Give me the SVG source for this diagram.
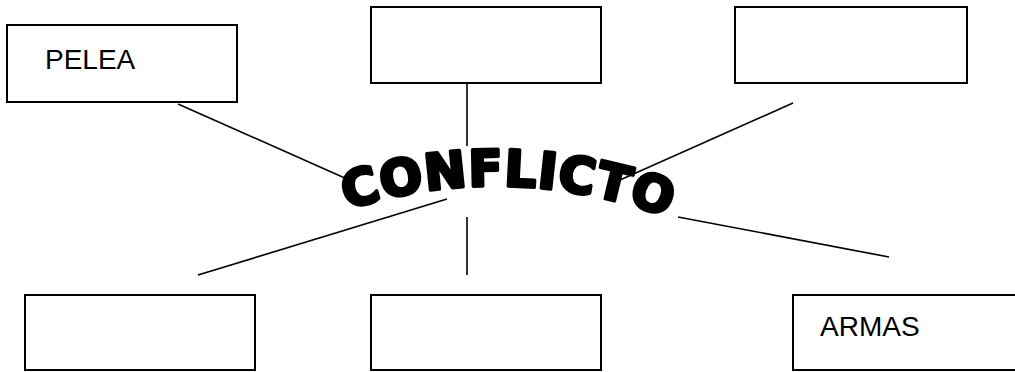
<svg xmlns="http://www.w3.org/2000/svg" width="1015" height="372" viewBox="0 0 1015 372">
  <style>
    .box { fill: #ffffff; stroke: #000000; stroke-width: 2; }
    .lbl { font-family: "Liberation Sans", Arial, sans-serif; font-size: 28px; fill: #000000; }
    .conn line { stroke: #000000; stroke-width: 1.6; }
    .word { font-family: "DejaVu Sans", "Liberation Sans", sans-serif; font-weight: bold; font-size: 50px; fill: #000000; stroke: #000000; stroke-width: 3.5; stroke-linejoin: round; letter-spacing: 1px; }
  </style>
  <defs>
    <path id="arc" d="M 340 212 Q 505 156 676 220" fill="none"/>
  </defs>
  <rect width="1015" height="372" fill="#ffffff"/>
  <g id="connectors" class="conn">
    <line x1="178" y1="104" x2="347" y2="179"/>
    <line x1="467" y1="83" x2="467" y2="146"/>
    <line x1="793" y1="103" x2="620" y2="180"/>
    <line x1="198" y1="275" x2="447" y2="199"/>
    <line x1="467" y1="217" x2="467" y2="275"/>
    <line x1="678" y1="217" x2="889" y2="257"/>
  </g>
  <g id="node-pelea">
    <rect class="box" x="7" y="25" width="230" height="77"/>
    <text class="lbl" x="45" y="69">PELEA</text>
  </g>
  <g id="node-top-center">
    <rect class="box" x="371" y="7" width="230" height="76"/>
  </g>
  <g id="node-top-right">
    <rect class="box" x="735" y="7" width="232" height="76"/>
  </g>
  <g id="node-bottom-left">
    <rect class="box" x="25" y="295" width="230" height="75"/>
  </g>
  <g id="node-bottom-center">
    <rect class="box" x="371" y="295" width="230" height="75"/>
  </g>
  <g id="node-armas">
    <rect class="box" x="793" y="295" width="240" height="75"/>
    <text class="lbl" x="820" y="336">ARMAS</text>
  </g>
  <g id="conflicto">
    <text class="word"><textPath href="#arc" startOffset="50%" text-anchor="middle">CONFLICTO</textPath></text>
  </g>
</svg>
